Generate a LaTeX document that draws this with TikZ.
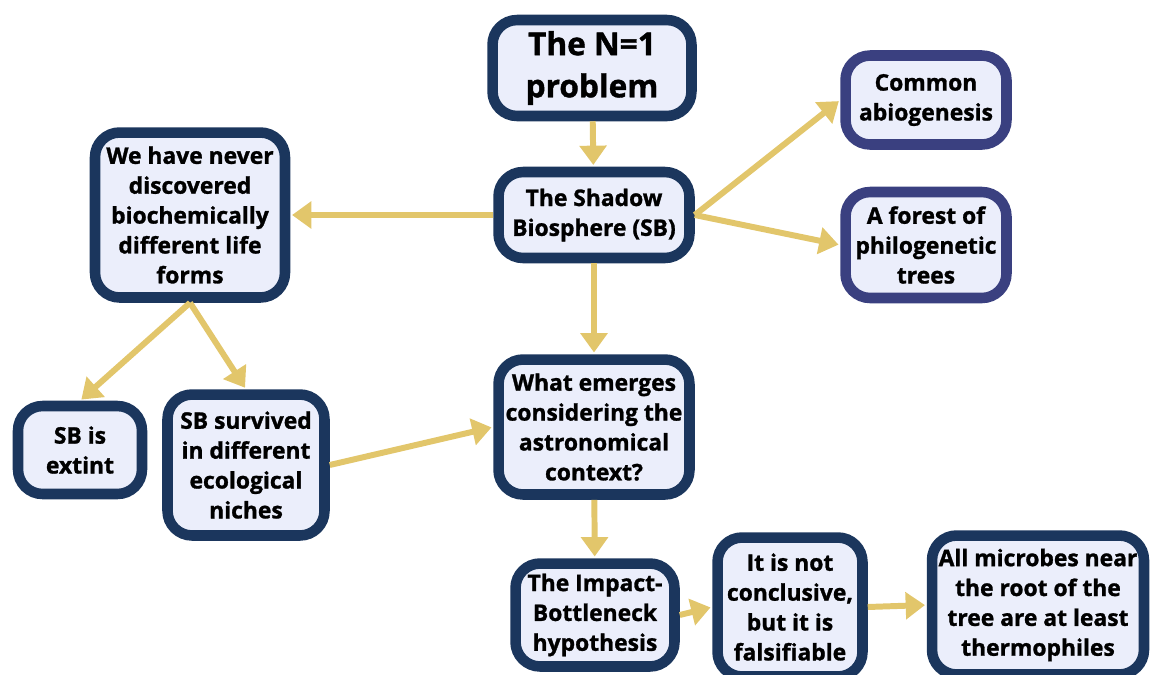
\documentclass[tikz,border=0pt]{standalone}
\usepackage{fontspec}
\setmainfont[BoldFeatures = {FakeBold = 1.2}]{Open Sans}
\usetikzlibrary{arrows.meta}
\definecolor{navy}{HTML}{1B365D}
\definecolor{purp}{HTML}{3A4080}
\definecolor{boxfill}{HTML}{EBEEFB}
\definecolor{gold}{HTML}{E2C66B}
\tikzset{box/.style = {draw = navy, fill = boxfill, line width = 6pt, rounded corners = 14pt,
    align = center, inner sep = 2pt, font = \bfseries\fontsize{13}{17}\selectfont}}
\tikzset{pbox/.style = {box, draw = purp}}
\tikzset{link/.style = {draw = gold, line width = 3.4pt, shorten > = 1pt,
    -{Triangle[length = 11pt, width = 15pt]}}}

\begin{document}
\begin{tikzpicture}[x = 0.02cm, y = -0.02cm]
  \useasboundingbox (0, 0) rectangle (1150, 674);
  \clip (0, 0) rectangle (1150, 674);

  \node [box, minimum width = 3.98cm, minimum height = 1.92cm,
    font = \bfseries\fontsize{18}{24}\selectfont] (prob) at (592, 68) {The N=1\\problem};
  \node [box, minimum width = 3.82cm, minimum height = 1.72cm] (sb) at (594, 215) {The Shadow\\Biosphere (SB)};
  \node [pbox, minimum width = 3.22cm, minimum height = 1.78cm] (abio) at (926, 100) {Common\\abiogenesis};
  \node [pbox, minimum width = 3.22cm, minimum height = 2.12cm] (forest) at (926, 245) {A forest of\\philogenetic\\trees};
  \node [box, minimum width = 3.80cm, minimum height = 3.30cm] (never) at (190, 215)
    {We have never\\discovered\\biochemically\\different life\\forms};
  \node [box, minimum width = 2.48cm, minimum height = 1.76cm] (extint) at (80, 450) {SB is\\extint};
  \node [box, minimum width = 3.14cm, minimum height = 2.82cm] (survived) at (246, 465)
    {SB survived\\in different\\ecological\\niches};
  \node [box, minimum width = 3.82cm, minimum height = 2.70cm] (emerges) at (594, 427)
    {What emerges\\considering the\\astronomical\\context?};
  \node [box, minimum width = 3.18cm, minimum height = 2.06cm] (impact) at (595, 615)
    {The Impact-\\Bottleneck\\hypothesis};
  \node [box, minimum width = 2.90cm, minimum height = 2.78cm] (concl) at (790, 607)
    {It is not\\conclusive,\\but it is\\falsifiable};
  \node [box, minimum width = 4.24cm, minimum height = 2.78cm] (microbes) at (1038, 605)
    {All microbes near\\the root of the\\tree are at least\\thermophiles};

  \draw [link] (prob) -- (sb);
  \draw [link] (sb.west) -- (never.east);
  \draw [link] (sb.east) -- (abio.west);
  \draw [link] (sb.east) -- (forest.west);
  \draw [link] (never.south) -- (extint.north);
  \draw [link] (never.south) -- (survived.north);
  \draw [link] (sb) -- (emerges);
  \draw [link] (survived.east) -- (emerges.west);
  \draw [link] (emerges) -- (impact);
  \draw [link] (impact.east) -- (concl.west);
  \draw [link] (concl.east) -- (microbes.west);
\end{tikzpicture}
\end{document}
